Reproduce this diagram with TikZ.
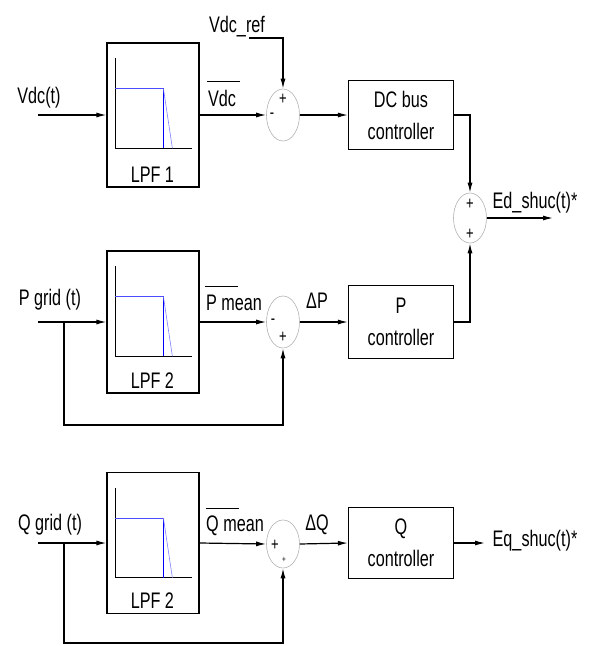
\documentclass[tikz,border=0pt]{standalone}
\usepackage{fontspec}
\setmainfont{Liberation Sans}[FakeStretch=0.72]
\usetikzlibrary{arrows.meta,shapes.geometric}

\begin{document}
\begin{tikzpicture}[x=1pt,y=-1pt,line width=1.2pt,
  font=\fontsize{22.5}{32}\selectfont,
  >={Latex[length=10pt,width=5pt]},
  block/.style={draw,rectangle,minimum width=105pt,align=center,inner sep=0pt},
  lpf/.style={draw,rectangle,minimum width=92pt,inner sep=0pt},
  sumnode/.style={draw=gray!60,line width=0.6pt,ellipse,minimum width=33pt,minimum height=52pt,inner sep=0pt},
  sgn/.style={font=\fontsize{18}{18}\selectfont,inner sep=0pt},
  sig/.style={inner sep=0pt}]
\useasboundingbox (0,0) rectangle (592,646);
% blocks
\node[lpf,minimum height=144pt] (lpfa) at (153,115) {};
\node[lpf,minimum height=142pt] (lpfb) at (153,322) {};
\node[lpf,minimum height=141pt] (lpfc) at (153,543) {};
\node[sumnode] (suma) at (283,115) {};
\node[sumnode] (sumb) at (283,322) {};
\node[sumnode,minimum height=48pt] (sumc) at (283,544) {};
\node[sumnode,minimum height=50pt] (sumd) at (470,218) {};
\node[block,minimum height=69pt] (dcbus) at (401,115) {DC bus\\controller};
\node[block,minimum height=73pt] (pctrl) at (401,322) {P\\controller};
\node[block,minimum height=71pt] (qctrl) at (401,543) {Q\\controller};
% filter curves
\foreach \b/\t in {lpfa/1,lpfb/2,lpfc/2} {
  \draw[line width=0.9pt] ([shift={(9,16)}]\b.north west) -- ([shift={(9,106)}]\b.north west) -- ([shift={(86,106)}]\b.north west);
  \draw[blue!70,line width=0.7pt] ([shift={(9,46)}]\b.north west) -- ([shift={(57,46)}]\b.north west);
  \draw[blue,line width=1.3pt] ([shift={(57,46)}]\b.north west) -- ([shift={(57,106)}]\b.north west);
  \draw[blue!50,line width=0.6pt] ([shift={(57,46)}]\b.north west) -- ([shift={(66,106)}]\b.north west);
  \node[sig] (\b lbl) at ([shift={(46,-13)}]\b.south west) {LPF \t};
}
% signs
\node[sgn] (sa1) at (283,99) {+};
\node[sgn] (sa2) at (272,116) {-};
\node[sgn] (sb1) at (273,322) {-};
\node[sgn] (sb2) at (283,337) {+};
\node[sgn] (sc1) at (275,545) {+};
\node[sgn,font=\fontsize{9}{9}\selectfont] (sc2) at (284,560) {+};
\node[sgn] (sd1) at (470,204) {+};
\node[sgn] (sd2) at (470,234) {+};
% DC bus row
\coordinate (ina) at (38,115);
\node[sig] (vdct) at (39,98) {Vdc(t)};
\draw[->] (ina) -- (lpfa.west);
\draw[->] (lpfa.east) -- (suma.west);
\node[sig] (vdcbar) at (222,98) {Vdc};
\draw[line width=1pt] ([yshift=8pt]vdcbar.north west) -- ++(33,0);
\node[sig] (vdcref) at (237,27) {Vdc\_ref};
\coordinate (refa) at (249,38);
\draw[->] (refa) -| (suma.north);
\draw[->] (suma.east) -- (dcbus.west);
\draw[->] (dcbus.east) -| (sumd.north);
\draw[->] (pctrl.east) -| (sumd.south);
\coordinate (outd) at (553,218);
\draw[->] (sumd.east) -- (outd);
\node[sig] (edout) at (535,203) {Ed\_shuc(t)*};
% P row
\coordinate (inb) at (38,322);
\coordinate (splitb) at (64,322);
\node[sig] (pgrid) at (50,300) {P grid (t)};
\draw[->] (inb) -- (lpfb.west);
\draw[->] (splitb) -- ++(0,103) -| (sumb.south);
\draw[->] (lpfb.east) -- (sumb.west);
\node[sig] (pmean) at (234,303) {P mean};
\draw[line width=1pt] ([yshift=8pt]pmean.north west) -- ++(33,0);
\node[sig] (dp) at (317,301) {ΔP};
\draw[->] (sumb.east) -- (pctrl.west);
% Q row
\coordinate (inc) at (38,543);
\coordinate (splitc) at (64,543);
\node[sig] (qgrid) at (50,525) {Q grid (t)};
\draw[->] (inc) -- (lpfc.west);
\draw[->] (splitc) -- ++(0,100) -| (sumc.south);
\draw[->] (lpfc.east) -- (sumc.west);
\node[sig] (qmean) at (235,526) {Q mean};
\draw[line width=1pt] ([yshift=7pt]qmean.north west) -- ++(33,0);
\node[sig] (dq) at (317,525) {ΔQ};
\draw[->] (sumc.east) -- (qctrl.west);
\coordinate (outc) at (485,543);
\draw[->] (qctrl.east) -- (outc);
\node[sig] (eqout) at (535,541) {Eq\_shuc(t)*};
\end{tikzpicture}
\end{document}
